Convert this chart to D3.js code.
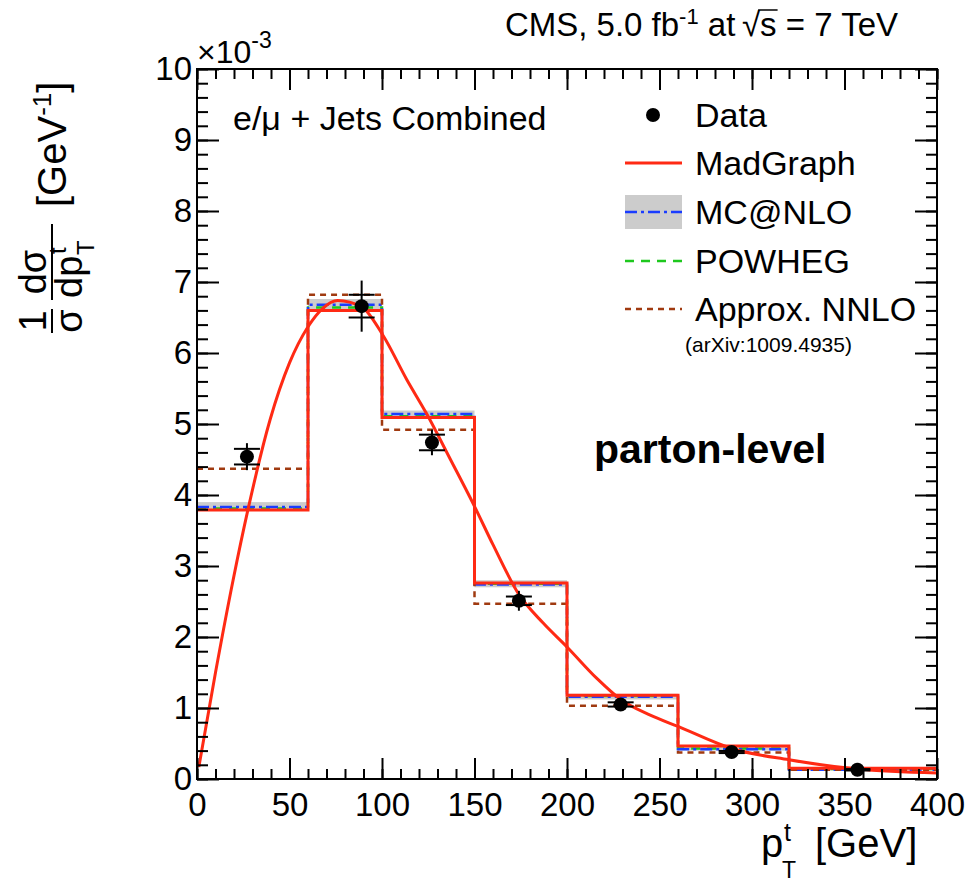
<!DOCTYPE html>
<html>
<head>
<meta charset="utf-8">
<script src="https://cdn.jsdelivr.net/npm/d3@7"></script>
<style>
  body { margin: 0; background: #fff; }
  text { font-family: "Liberation Sans", Arial, sans-serif; fill: #000; }
</style>
</head>
<body>
<div id="chart"></div>
<script>
// bin edges of the top-quark pT histogram (GeV)
const binEdges = [0, 60, 100, 150, 200, 260, 320, 400];

// theory predictions, in units of 1e-3 GeV^-1
const madgraph = [3.79, 6.60, 5.09, 2.76, 1.18, 0.465, 0.15];
const mcnlo    = [3.83, 6.68, 5.14, 2.74, 1.16, 0.42, 0.13];
const mcnloLo  = [3.79, 6.60, 5.09, 2.70, 1.12, 0.40, 0.12];
const mcnloHi  = [3.90, 6.76, 5.19, 2.80, 1.20, 0.45, 0.15];
const powheg   = [3.81, 6.64, 5.11, 2.75, 1.17, 0.43, 0.14];
const nnlo     = [4.37, 6.82, 4.92, 2.47, 1.03, 0.375, 0.13];

// measured points
const dataX   = [27, 89, 127, 174, 229, 289, 357];
const dataY   = [4.54, 6.66, 4.74, 2.51, 1.05, 0.38, 0.13];
const statErr = [0.11, 0.16, 0.11, 0.06, 0.03, 0.015, 0.01];
const totErr  = [0.19, 0.36, 0.18, 0.14, 0.05, 0.03, 0.02];

// smooth MadGraph curve
const curveX = [1, 10, 19.5, 27.6, 39.5, 50, 60, 68, 76, 89, 100.5, 113.5, 124, 137, 150, 160, 174, 187, 200, 216, 229, 245, 260, 289, 320, 357, 400];
const curveY = [0.17, 1.5, 2.8, 3.8, 5.06, 5.86, 6.37, 6.63, 6.74, 6.65, 6.25, 5.62, 5.15, 4.5, 3.84, 3.3, 2.6, 2.2, 1.86, 1.42, 1.12, 0.9, 0.74, 0.43, 0.27, 0.14, 0.085];

const xTicks = [0, 50, 100, 150, 200, 250, 300, 350, 400];
const yTicks = [0, 1, 2, 3, 4, 5, 6, 7, 8, 9, 10];

const W = 969, H = 883;
const mLeft = 197, mRight = 937, mTop = 69, mBottom = 779;

const red = "#ff2a14", blue = "#1a3cff", green = "#1ec81e", brown = "#a03a10", band = "#cccccc";

const svg = d3.select("#chart").append("svg")
  .attr("width", W).attr("height", H);

const x = d3.scaleLinear().domain([0, 400]).range([mLeft, mRight]);
const y = d3.scaleLinear().domain([0, 10]).range([mBottom, mTop]);

svg.append("defs").append("clipPath").attr("id", "clip")
  .append("rect").attr("x", mLeft).attr("y", mTop)
  .attr("width", mRight - mLeft).attr("height", mBottom - mTop);

const plot = svg.append("g").attr("clip-path", "url(#clip)");

// step outline of a histogram
function stepPoints(vals) {
  const pts = vals.map((v, i) => [binEdges[i], v]);
  pts.push([binEdges[binEdges.length - 1], vals[vals.length - 1]]);
  return pts;
}
const stepLine = d3.line().x(d => x(d[0])).y(d => y(d[1])).curve(d3.curveStepAfter);

// MC@NLO uncertainty band
plot.selectAll("rect.band")
  .data(mcnlo)
  .enter()
  .append("rect")
  .attr("x", (d, i) => x(binEdges[i]))
  .attr("width", (d, i) => x(binEdges[i + 1]) - x(binEdges[i]))
  .attr("y", (d, i) => y(mcnloHi[i]))
  .attr("height", (d, i) => y(mcnloLo[i]) - y(mcnloHi[i]))
  .attr("fill", band);

plot.append("path").attr("d", stepLine(stepPoints(powheg)))
  .attr("fill", "none").attr("stroke", green).attr("stroke-width", 2.5)
  .attr("stroke-dasharray", "9,7");

plot.append("path").attr("d", stepLine(stepPoints(mcnlo)))
  .attr("fill", "none").attr("stroke", blue).attr("stroke-width", 2.5)
  .attr("stroke-dasharray", "12,4,3,4");

plot.append("path").attr("d", stepLine(stepPoints(nnlo)))
  .attr("fill", "none").attr("stroke", brown).attr("stroke-width", 2.5)
  .attr("stroke-dasharray", "6,5");

plot.append("path").attr("d", stepLine(stepPoints(madgraph)))
  .attr("fill", "none").attr("stroke", red).attr("stroke-width", 3);

// MadGraph smooth curve
const curveLine = d3.line()
  .x((d, i) => x(curveX[i]))
  .y(d => y(d))
  .curve(d3.curveMonotoneX);
plot.append("path").attr("d", curveLine(curveY))
  .attr("fill", "none").attr("stroke", red).attr("stroke-width", 3);

// data points with stat (capped) and total errors
const pts = svg.append("g").selectAll("g.pt")
  .data(dataY)
  .enter()
  .append("g");
pts.append("line")
  .attr("x1", (d, i) => x(dataX[i])).attr("x2", (d, i) => x(dataX[i]))
  .attr("y1", (d, i) => y(d + totErr[i])).attr("y2", (d, i) => y(d - totErr[i]))
  .attr("stroke", "#000").attr("stroke-width", 2);
[1, -1].forEach(function(s) {
  pts.append("line")
    .attr("x1", (d, i) => x(dataX[i]) - 13).attr("x2", (d, i) => x(dataX[i]) + 13)
    .attr("y1", (d, i) => y(d + s * statErr[i])).attr("y2", (d, i) => y(d + s * statErr[i]))
    .attr("stroke", "#000").attr("stroke-width", 2);
});
pts.append("circle")
  .attr("cx", (d, i) => x(dataX[i]))
  .attr("cy", d => y(d))
  .attr("r", 7)
  .attr("fill", "#000");

// axes: ticks inside the frame, labels outside
function styleAxis(g) {
  g.select(".domain").remove();
  g.selectAll(".tick line").attr("stroke", "#000").attr("stroke-width", 2);
  g.selectAll(".tick text").attr("font-size", 33).attr("font-family", "Liberation Sans, Arial, sans-serif").attr("fill", "#000");
}
const xMinor = d3.range(0, 401, 10);
const yMinor = d3.range(0, 10.01, 0.2);

svg.append("g").attr("transform", `translate(0,${mBottom})`)
  .call(d3.axisBottom(x).tickValues(xMinor).tickSize(-10).tickFormat(""))
  .call(styleAxis);
svg.append("g").attr("transform", `translate(0,${mBottom})`)
  .call(d3.axisBottom(x).tickValues(xTicks).tickSize(-21).tickPadding(14))
  .call(styleAxis);
svg.append("g").attr("transform", `translate(0,${mTop})`)
  .call(d3.axisTop(x).tickValues(xMinor).tickSize(-10).tickFormat(""))
  .call(styleAxis);
svg.append("g").attr("transform", `translate(0,${mTop})`)
  .call(d3.axisTop(x).tickValues(xTicks).tickSize(-21).tickFormat(""))
  .call(styleAxis);

svg.append("g").attr("transform", `translate(${mLeft},0)`)
  .call(d3.axisLeft(y).tickValues(yMinor).tickSize(-11).tickFormat(""))
  .call(styleAxis);
svg.append("g").attr("transform", `translate(${mLeft},0)`)
  .call(d3.axisLeft(y).tickValues(yTicks).tickSize(-22).tickPadding(5))
  .call(styleAxis);
svg.append("g").attr("transform", `translate(${mRight},0)`)
  .call(d3.axisRight(y).tickValues(yMinor).tickSize(-11).tickFormat(""))
  .call(styleAxis);
svg.append("g").attr("transform", `translate(${mRight},0)`)
  .call(d3.axisRight(y).tickValues(yTicks).tickSize(-22).tickFormat(""))
  .call(styleAxis);

// frame
svg.append("rect").attr("x", mLeft).attr("y", mTop)
  .attr("width", mRight - mLeft).attr("height", mBottom - mTop)
  .attr("fill", "none").attr("stroke", "#000").attr("stroke-width", 2);

// exponent
const expo = svg.append("text").attr("x", mLeft).attr("y", 63).attr("font-size", 32);
expo.append("tspan").text("\u00d710");
expo.append("tspan").attr("dy", -15).attr("font-size", 23).text("-3");

// header
const head = svg.append("text").attr("x", 898).attr("y", 36)
  .attr("text-anchor", "end").attr("font-size", 33);
head.append("tspan").text("CMS, 5.0 fb");
head.append("tspan").attr("dy", -12).attr("font-size", 22).text("-1");
head.append("tspan").attr("dy", 12).text(" at\u2009\u221a");
const sArg = head.append("tspan").text("s");
head.append("tspan").text(" = 7 TeV");
const sBox = sArg.node().getBBox();
svg.append("line")
  .attr("x1", sBox.x - 2).attr("x2", sBox.x + sBox.width + 1)
  .attr("y1", sBox.y + 4).attr("y2", sBox.y + 4)
  .attr("stroke", "#000").attr("stroke-width", 1.5);

// x axis title
svg.append("text").attr("x", 761).attr("y", 857).attr("font-size", 40).text("p");
svg.append("text").attr("x", 784).attr("y", 841).attr("font-size", 25).text("t");
svg.append("text").attr("x", 782).attr("y", 878).attr("font-size", 23).text("T");
svg.append("text").attr("x", 815).attr("y", 857).attr("font-size", 40).text("[GeV]");

// y axis title, rotated
const yt = svg.append("g").attr("transform", "translate(52,0) rotate(-90)");
yt.append("text").attr("x", -321).attr("y", -6).attr("text-anchor", "middle").attr("font-size", 38).text("1");
yt.append("line").attr("x1", -333).attr("x2", -309).attr("y1", 0).attr("y2", 0).attr("stroke", "#000").attr("stroke-width", 2);
yt.append("text").attr("x", -321).attr("y", 30).attr("text-anchor", "middle").attr("font-size", 38).text("\u03c3");
yt.append("text").attr("x", -272).attr("y", -6).attr("text-anchor", "middle").attr("font-size", 38).text("d\u03c3");
yt.append("line").attr("x1", -300).attr("x2", -224).attr("y1", 0).attr("y2", 0).attr("stroke", "#000").attr("stroke-width", 2);
yt.append("text").attr("x", -298).attr("y", 30).attr("font-size", 38).text("dp");
yt.append("text").attr("x", -254).attr("y", 14).attr("font-size", 24).text("t");
yt.append("text").attr("x", -255).attr("y", 42).attr("font-size", 24).text("T");
const gev = yt.append("text").attr("x", -207).attr("y", 14).attr("font-size", 40);
gev.append("tspan").text("[GeV");
gev.append("tspan").attr("dy", -15).attr("font-size", 26).text("-1");
gev.append("tspan").attr("dy", 15).text("]");

// labels in the plot
svg.append("text").attr("x", 233).attr("y", 130).attr("font-size", 34)
  .text("e/\u03bc + Jets Combined");
svg.append("text").attr("x", 594).attr("y", 463).attr("font-size", 41)
  .attr("font-weight", "bold").text("parton-level");

// legend
const legNames = ["Data", "MadGraph", "MC@NLO", "POWHEG", "Approx. NNLO"];
const legY = [115, 163, 212, 261, 309];
const lx1 = 625, lx2 = 682;
const leg = svg.append("g");
leg.append("circle").attr("cx", 653).attr("cy", legY[0]).attr("r", 7).attr("fill", "#000");
leg.append("line").attr("x1", lx1).attr("x2", lx2).attr("y1", legY[1]).attr("y2", legY[1])
  .attr("stroke", red).attr("stroke-width", 3);
leg.append("rect").attr("x", lx1).attr("y", legY[2] - 17).attr("width", lx2 - lx1).attr("height", 34).attr("fill", band);
leg.append("line").attr("x1", lx1).attr("x2", lx2).attr("y1", legY[2]).attr("y2", legY[2])
  .attr("stroke", blue).attr("stroke-width", 2.5).attr("stroke-dasharray", "12,4,3,4");
leg.append("line").attr("x1", lx1).attr("x2", lx2).attr("y1", legY[3]).attr("y2", legY[3])
  .attr("stroke", green).attr("stroke-width", 2.5).attr("stroke-dasharray", "9,7");
leg.append("line").attr("x1", lx1).attr("x2", lx2).attr("y1", legY[4]).attr("y2", legY[4])
  .attr("stroke", brown).attr("stroke-width", 2.5).attr("stroke-dasharray", "6,5");
leg.selectAll("text.name")
  .data(legNames)
  .enter()
  .append("text")
  .attr("x", 695)
  .attr("y", (d, i) => legY[i] + 12)
  .attr("font-size", 34)
  .text(d => d);
leg.append("text").attr("x", 685).attr("y", 352).attr("font-size", 21).text("(arXiv:1009.4935)");
</script>
</body>
</html>
